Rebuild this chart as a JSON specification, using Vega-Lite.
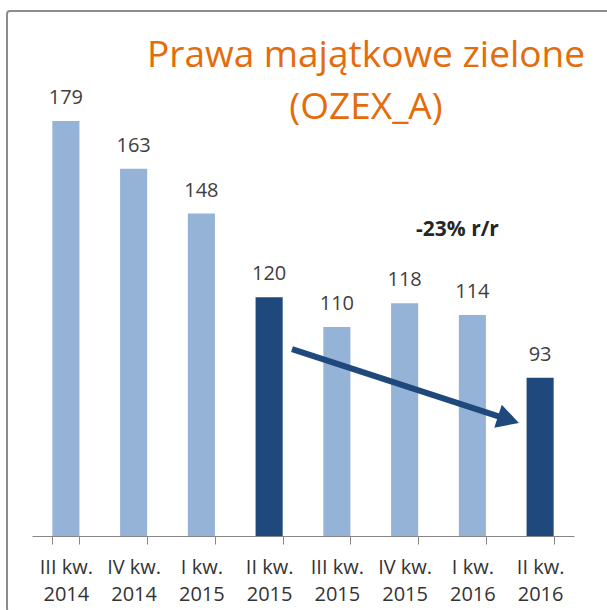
{
  "$schema": "https://vega.github.io/schema/vega-lite/v6.json",
  "width": 603,
  "height": 601,
  "autosize": {"type": "none"},
  "padding": {"left": 7, "top": 11, "right": 0, "bottom": 0},
  "config": {
    "font": "Open Sans",
    "view": {"stroke": "#8c8c8c", "strokeWidth": 2, "cornerRadius": 3}
  },
  "datasets": {
    "bars": [
      {"q": "III kw.|2014", "v": 179, "hl": "no"},
      {"q": "IV kw.|2014", "v": 163, "hl": "no"},
      {"q": "I kw.|2015", "v": 148, "hl": "no"},
      {"q": "II kw.|2015", "v": 120, "hl": "yes"},
      {"q": "III kw.|2015", "v": 110, "hl": "no"},
      {"q": "IV kw.|2015", "v": 118, "hl": "no"},
      {"q": "I kw.|2016", "v": 114, "hl": "no"},
      {"q": "II kw.|2016", "v": 93, "hl": "yes"}
    ],
    "titleLines": [
      {"text": "Prawa majątkowe zielone", "px": 4.93, "py": 197.1},
      {"text": "(OZEX_A)", "px": 4.93, "py": 179.7}
    ],
    "note": [
      {"text": "-23% r/r", "px": 6.28, "py": 140.5}
    ],
    "arrow": [
      {"x1": 3.838, "y1": 102.6, "x2": 7.033, "y2": 79.0}
    ],
    "head": [
      {"px": 7.033, "py": 79.0}
    ]
  },
  "layer": [
    {
      "data": {"name": "bars"},
      "encoding": {
        "x": {
          "field": "q", "type": "nominal", "sort": null,
          "scale": {"range": [25, 567], "paddingInner": 0.6, "paddingOuter": 0.3},
          "axis": {
            "title": null,
            "offset": -76,
            "domainColor": "#868686",
            "domainWidth": 1,
            "tickColor": "#868686",
            "tickSize": 8,
            "tickBand": "extent",
            "labelExpr": "isString(datum.value) ? split(datum.value, '|') : ''",
            "labelAngle": 0,
            "labelFontSize": 20,
            "labelColor": "#333333",
            "labelBaseline": "alphabetic",
            "labelPadding": 29,
            "labelLineHeight": 27
          }
        },
        "y": {
          "field": "v", "type": "quantitative",
          "scale": {"domain": [40, 215], "range": [525, 2.6], "zero": false, "nice": false},
          "axis": null
        }
      },
      "layer": [
        {
          "mark": {"type": "bar"},
          "encoding": {
            "y2": {"datum": 40},
            "color": {
              "field": "hl", "type": "nominal",
              "scale": {"domain": ["no", "yes"], "range": ["#95B3D7", "#1F497D"]},
              "legend": null
            }
          }
        },
        {
          "mark": {"type": "text", "baseline": "alphabetic", "dy": -17, "fontSize": 20, "color": "#404040"},
          "encoding": {"text": {"field": "v", "type": "quantitative"}}
        }
      ]
    },
    {
      "data": {"name": "arrow"},
      "mark": {"type": "rule", "color": "#1F497D", "strokeWidth": 6, "strokeCap": "butt"},
      "encoding": {
        "x": {"field": "x1", "type": "quantitative", "scale": {"domain": [0, 8], "range": [25, 567], "nice": false, "zero": false}, "axis": null},
        "x2": {"field": "x2"},
        "y": {"field": "y1", "type": "quantitative", "scale": {"domain": [40, 215], "range": [525, 2.6], "zero": false, "nice": false}, "axis": null},
        "y2": {"field": "y2"}
      }
    },
    {
      "data": {"name": "head"},
      "mark": {"type": "point", "filled": true, "opacity": 1, "color": "#1F497D", "shape": "M-1,-1.1L1,0L-1,1.1Z", "size": 484, "angle": 18},
      "encoding": {
        "x": {"field": "px", "type": "quantitative", "scale": {"domain": [0, 8], "range": [25, 567], "nice": false, "zero": false}, "axis": null},
        "y": {"field": "py", "type": "quantitative", "scale": {"domain": [40, 215], "range": [525, 2.6], "zero": false, "nice": false}, "axis": null}
      }
    },
    {
      "data": {"name": "titleLines"},
      "mark": {"type": "text", "align": "center", "baseline": "alphabetic", "fontSize": 37, "color": "#E46C0A"},
      "encoding": {
        "x": {"field": "px", "type": "quantitative", "scale": {"domain": [0, 8], "range": [25, 567], "nice": false, "zero": false}, "axis": null},
        "y": {"field": "py", "type": "quantitative", "scale": {"domain": [40, 215], "range": [525, 2.6], "zero": false, "nice": false}, "axis": null},
        "text": {"field": "text"}
      }
    },
    {
      "data": {"name": "note"},
      "mark": {"type": "text", "align": "center", "baseline": "alphabetic", "fontSize": 21, "fontWeight": "bold", "color": "#262626"},
      "encoding": {
        "x": {"field": "px", "type": "quantitative", "scale": {"domain": [0, 8], "range": [25, 567], "nice": false, "zero": false}, "axis": null},
        "y": {"field": "py", "type": "quantitative", "scale": {"domain": [40, 215], "range": [525, 2.6], "zero": false, "nice": false}, "axis": null},
        "text": {"field": "text"}
      }
    }
  ],
  "resolve": {"scale": {"x": "independent"}}
}
